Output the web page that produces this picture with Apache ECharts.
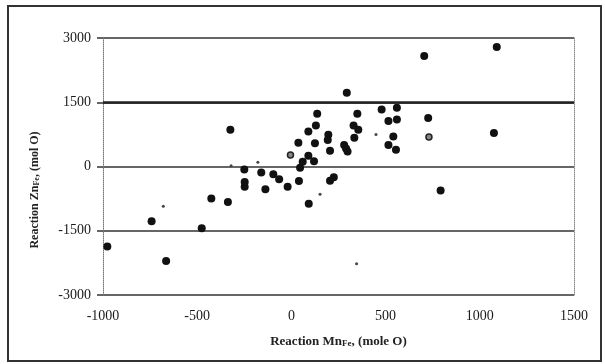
<!DOCTYPE html>
<html>
<head>
<meta charset="utf-8">
<script src="https://cdn.jsdelivr.net/npm/echarts/dist/echarts.min.js"></script>
<style>
  html, body { margin: 0; padding: 0; background: #fff; }
  #chart { width: 605px; height: 364px; }
</style>
</head>
<body>
<div id="chart"></div>
<script>
// filled dots: reaction Mn_Fe (x) vs reaction Zn_Fe (y), mole O
const mnFilled = [-977, -665, -742, -476, -425, -337, -324, -250, -248, -248, -160, -138, -96, -65, -20,
    40, 92, 205, 225, 46, 60, 90, 120, 37, 125, 90, 130, 137, 196, 193, 205, 280, 290, 298, 294,
    330, 355, 350, 334, 479, 560, 515, 560, 541, 515, 555, 705, 1090, 726, 792, 1075]
const znFilled = [-1870, -2205, -1280, -1440, -745, -830, 860, -70, -360, -470, -140, -530, -180, -300, -470,
    -340, -870, -330, -250, -30, 110, 250, 120, 553, 545, 820, 960, 1230, 740, 620, 370, 500, 420, 350, 1720,
    960, 860, 1230, 670, 1330, 1370, 1060, 1100, 700, 500, 390, 2580, 2790, 1130, -560, 780]

// open dots
const mnOpen = [730, -5]
const znOpen = [690, 270]

// faint small marks
const mnSmall = [-680, -320, -178, 152, 346, 449]
const znSmall = [-930, 15, 100, -650, -2270, 750]

const xMin = -1000, xMax = 1500, xStep = 500
const yMin = -3000, yMax = 3000, yStep = 1500

const pairs = (xs, ys) => xs.map((x, i) => [x, ys[i]])
const plain = v => String(v)

const serif = "'Liberation Serif', 'DejaVu Serif', serif"

const myChart = echarts.init(document.getElementById('chart'))
const option = {
    backgroundColor: '#fff',
    animation: false,
    grid: {
        left: 103,
        right: 31,
        top: 38,
        bottom: 69
    },
    graphic: [
        {
            type: 'rect',
            shape: {x: 8, y: 6, width: 593, height: 355},
            style: {fill: 'none', stroke: '#333', lineWidth: 2}
        },
        {
            type: 'text',
            x: 35,
            y: 190,
            rotation: Math.PI / 2,
            style: {
                text: '{a|Reaction }{b|Zn}{s|Fe}{a|, (mol O)}',
                align: 'center',
                verticalAlign: 'middle',
                fill: '#222',
                rich: {
                    a: {fontFamily: serif, fontSize: 12, fontWeight: 'bold', fill: '#222'},
                    b: {fontFamily: serif, fontSize: 12, fontWeight: 'bold', fill: '#222'},
                    s: {fontFamily: serif, fontSize: 8, fontWeight: 'bold', fill: '#222', verticalAlign: 'bottom'}
                }
            }
        }
    ],
    xAxis: {
        type: 'value',
        min: xMin,
        max: xMax,
        interval: xStep,
        position: 'bottom',
        axisLine: {show: false, onZero: false},
        axisTick: {show: false},
        splitLine: {show: false},
        axisLabel: {
            margin: 14,
            color: '#1a1a1a',
            fontFamily: serif,
            fontSize: 14,
            formatter: plain
        },
        name: '{a|Reaction }{b|Mn}{s|Fe}{a|, (mole O)}',
        nameLocation: 'middle',
        nameGap: 40,
        nameTextStyle: {
            rich: {
                a: {fontFamily: serif, fontSize: 13, fontWeight: 'bold', color: '#222'},
                b: {fontFamily: serif, fontSize: 13, fontWeight: 'bold', color: '#222'},
                s: {fontFamily: serif, fontSize: 9, fontWeight: 'bold', color: '#222', verticalAlign: 'bottom'}
            }
        }
    },
    yAxis: [
        {
            type: 'value',
            min: yMin,
            max: yMax,
            interval: yStep,
            axisLine: {
                show: true,
                onZero: false,
                lineStyle: {color: '#777', type: 'dotted', width: 1}
            },
            axisTick: {
                show: true,
                length: 6,
                lineStyle: {color: '#333', width: 1.5}
            },
            splitLine: {
                show: true,
                lineStyle: {color: '#333', width: 1.5}
            },
            axisLabel: {
                margin: 12,
                color: '#1a1a1a',
                fontFamily: serif,
                fontSize: 14,
                formatter: plain
            }
        },
        {
            type: 'value',
            min: yMin,
            max: yMax,
            interval: yStep,
            position: 'right',
            axisLine: {
                show: true,
                onZero: false,
                lineStyle: {color: '#888', type: 'dotted', width: 1}
            },
            axisTick: {show: false},
            axisLabel: {show: false},
            splitLine: {show: false}
        }
    ],
    series: [
        {
            type: 'scatter',
            data: pairs(mnFilled, znFilled),
            symbol: 'circle',
            symbolSize: 8,
            itemStyle: {color: '#111', opacity: 1},
            markLine: {
                silent: true,
                symbol: 'none',
                label: {show: false},
                lineStyle: {color: '#222', width: 2.5, type: 'solid'},
                data: [{yAxis: 1500}]
            }
        },
        {
            type: 'scatter',
            data: pairs(mnOpen, znOpen),
            symbol: 'circle',
            symbolSize: 6,
            itemStyle: {color: '#888', borderColor: '#222', borderWidth: 1.5, opacity: 1}
        },
        {
            type: 'scatter',
            data: pairs(mnSmall, znSmall),
            symbol: 'circle',
            symbolSize: 3,
            itemStyle: {color: '#444', opacity: 1}
        }
    ]
}
myChart.setOption(option)
</script>
</body>
</html>
